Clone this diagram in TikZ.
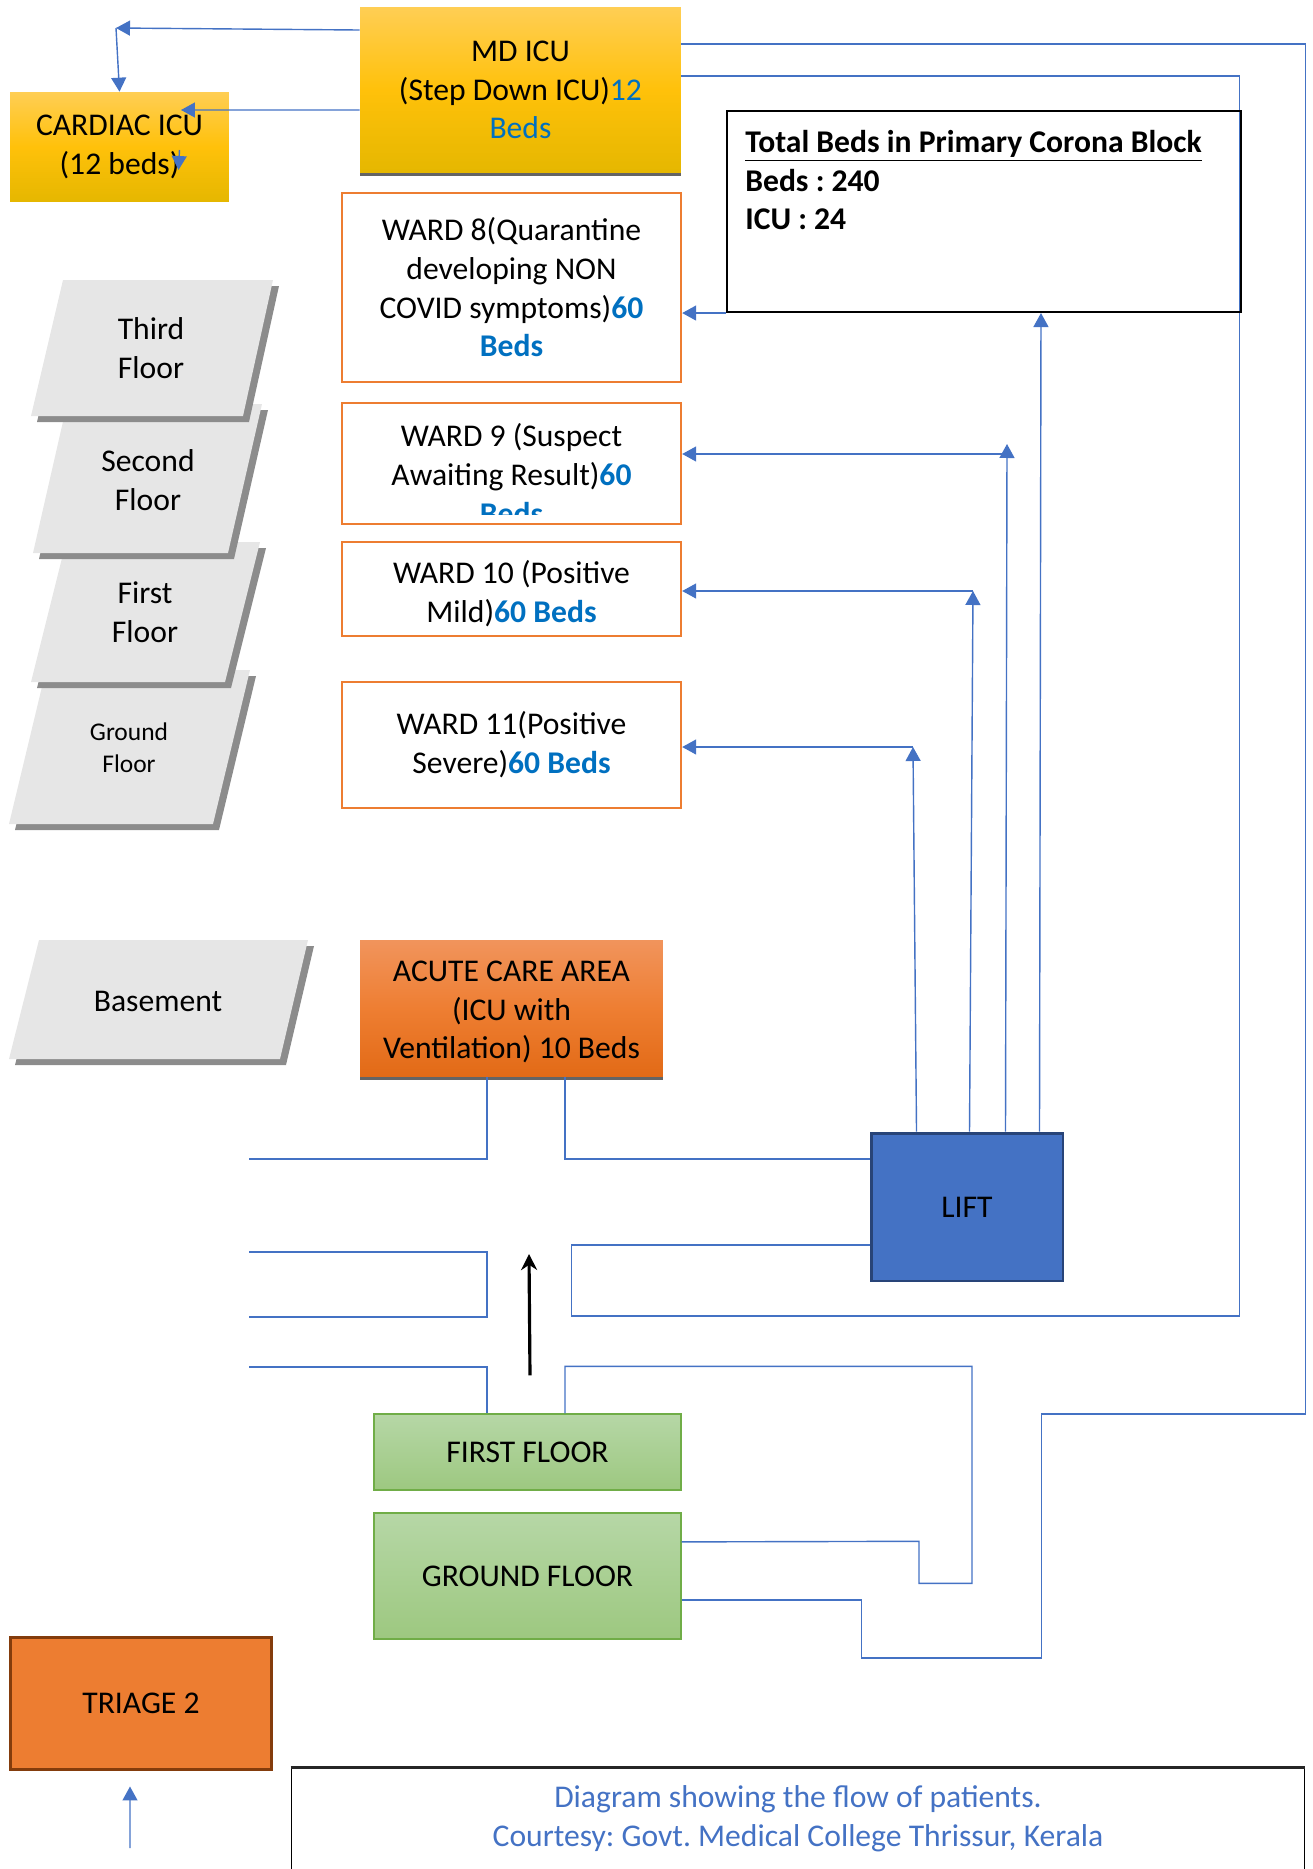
\documentclass[tikz,border=0pt]{standalone}
\usepackage{fontspec}
\setmainfont{Carlito}
\usepackage{xcolor}
\usepackage{tikz}
\usetikzlibrary{arrows.meta,positioning,shadows,backgrounds}
\frenchspacing
\definecolor{goldtop}   {RGB}{255,206,84}
\definecolor{goldmid}   {RGB}{255,193,10}
\definecolor{goldbot}   {RGB}{229,183,0}
\definecolor{acutetop}  {RGB}{241,148,92}
\definecolor{acutemid}  {RGB}{238,126,50}
\definecolor{acutebot}  {RGB}{226,106,22}
\definecolor{greentop}  {RGB}{182,215,166}
\definecolor{greenbot}  {RGB}{157,200,128}
\definecolor{greenedge} {RGB}{112,173,71}
\definecolor{wardorange}{RGB}{237,125,49}
\definecolor{triageedge}{RGB}{132,60,12}
\definecolor{liftblue}  {RGB}{68,114,196}
\definecolor{liftedge}  {RGB}{40,68,120}
\definecolor{linkblue}  {RGB}{68,114,196}
\definecolor{bedblue}   {RGB}{0,112,192}
\definecolor{floorface} {RGB}{230,230,230}
\definecolor{floorshade}{RGB}{140,140,140}
\definecolor{boxshade}  {RGB}{100,100,100}
\newcommand{\bigtxt}{\fontsize{18}{22}\selectfont}
\newcommand{\smalltxt}{\fontsize{14.5}{18}\selectfont}
\newcommand{\beds}[1]{\textcolor{bedblue}{\textbf{#1}}}
% one grey floor slab with its shadow
\newcommand{\slab}[4]{%
  \fill[floorshade, shift={(6,6)}] #1 -- #2 -- #3 -- #4 -- cycle;
  \fill[floorface] #1 -- #2 -- #3 -- #4 -- cycle;}
\tikzset{
  conn/.style     ={draw=linkblue, line width=0.8pt},
  arr/.style      ={conn, -{Triangle[length=0.28cm,width=0.3cm]}},
  flowarr/.style  ={draw=black, line width=1.8pt, -{Stealth[length=0.32cm,width=0.32cm]}},
  boxshadow/.style={drop shadow={shadow xshift=0cm, shadow yshift=-0.07cm,
                    fill=boxshade, opacity=1}},
  icubox/.style   ={align=center, font=\bigtxt, top color=goldtop,
                    bottom color=goldbot, middle color=goldmid},
  acutebox/.style ={align=center, font=\bigtxt, top color=acutetop,
                    bottom color=acutebot, middle color=acutemid, boxshadow},
  wardbox/.style  ={draw=wardorange, line width=1.4pt, fill=white, align=center,
                    font=\bigtxt, minimum width=6.78cm},
  wardtxt/.style  ={align=center, font=\bigtxt},
  floortxt/.style ={align=center, font=\bigtxt},
  floorbox/.style ={draw=greenedge, line width=0.8pt, top color=greentop,
                    bottom color=greenbot, font=\bigtxt,
                    minimum width=6.14cm, minimum height=1.52cm},
  liftbox/.style  ={draw=liftedge, line width=1.7pt, fill=liftblue, font=\bigtxt,
                    minimum width=3.84cm, minimum height=2.96cm},
  totbox/.style   ={draw=black, line width=1.2pt, minimum width=10.28cm,
                    minimum height=4.02cm},
  tottxt/.style   ={align=left, font=\bigtxt\bfseries, inner sep=0pt},
  triagebox/.style={draw=triageedge, line width=1.7pt, fill=wardorange,
                    font=\bigtxt, minimum width=5.24cm, minimum height=2.64cm},
  capbox/.style   ={draw=black, line width=0.6pt, minimum width=20.28cm,
                    minimum height=2.84cm},
  captxt/.style   ={align=center, font=\bigtxt, text=linkblue},
}
\begin{document}
\begin{tikzpicture}[x=0.02cm, y=-0.02cm]
  \useasboundingbox (0,0) rectangle (1312,1869);
  % floor slabs
  \slab{(46,670)}{(250,670)}{(213,824)}{(9,824)}
  \slab{(66,542)}{(260,542)}{(225,682)}{(31,682)}
  \slab{(67,404)}{(262,404)}{(228,553)}{(33,553)}
  \slab{(63,280)}{(273,280)}{(243,416)}{(31,416)}
  \slab{(39,940)}{(308,940)}{(280,1059)}{(9,1059)}
  \node[floortxt] (third) at (151,348) {Third\\Floor};
  \node[floortxt] (second) at (148,480) {Second\\Floor};
  \node[floortxt] (first) at (145,612) {First\\Floor};
  \node[floortxt, font=\smalltxt] (ground) at (129,748) {Ground\\Floor};
  \node[floortxt] (base) at (158,1001) {Basement};

  % units
  \node[icubox, boxshadow, minimum width=6.42cm, minimum height=3.32cm] (md) at (520.5,90)
    {MD ICU\\(Step Down ICU)\textcolor{bedblue}{12}\\\textcolor{bedblue}{Beds}};
  \node[icubox, minimum width=4.38cm, minimum height=2.2cm] (card) at (119.5,147)
    {CARDIAC ICU\\(12 beds)};
  \node[wardbox, minimum height=3.78cm] (w8) at (511.5,287.5)
    {WARD 8(Quarantine\\developing NON\\COVID symptoms)\beds{60}\\\beds{Beds}};
  \node[wardbox, minimum height=2.42cm, below=0.37cm of w8] (w9) {};
  \begin{scope}
    \clip (w9.north west) rectangle ([yshift=0.22cm]w9.south east);
    \node[wardtxt, yshift=-0.21cm] (w9txt) at (w9.center)
      {WARD 9 (Suspect\\Awaiting Result)\beds{60}\\\beds{Beds}};
  \end{scope}
  \node[wardbox, minimum height=1.88cm, below=0.31cm of w9] (w10) {};
  \node[wardtxt, yshift=-0.1cm] (w10txt) at (w10.center)
    {WARD 10 (Positive\\Mild)\beds{60 Beds}};
  \node[wardbox, minimum height=2.52cm, below=0.87cm of w10] (w11)
    {WARD 11(Positive\\Severe)\beds{60 Beds}};
  \node[acutebox, minimum width=6.06cm, minimum height=2.74cm] (acute) at (511.5,1008.5) {};
  \node[wardtxt, yshift=-0.07cm] (acutetxt) at (acute.center)
    {ACUTE CARE AREA\\(ICU with\\Ventilation) 10 Beds};
  \node[totbox] (tot) at (984,211.5) {};
  \node[tottxt, below right=0.4cm and 0.38cm of tot.north west] (totlbl)
    {\underline{Total Beds in Primary Corona Block}\\Beds : 240\\ICU : 24};
  \node[liftbox] (lift) at (967,1207) {LIFT};
  \node[floorbox] (ff) at (527.5,1452) {FIRST FLOOR};
  \node[floorbox, minimum height=2.52cm, below=0.43cm of ff] (gf) {GROUND FLOOR};
  \node[triagebox] (tri) at (141,1703) {TRIAGE 2};
  \node[capbox] (cap) at (798,1839) {};
  \draw[line width=1.2pt, black!85] (cap.north west) -- (cap.north east);
  \node[captxt] (captxt) at (798,1819)
    {Diagram showing the flow of patients.\\Courtesy: Govt. Medical College Thrissur, Kerala};

  % MD ICU to cardiac
  \coordinate (bend) at (116,28);
  \coordinate (tipB) at (181,110);
  \draw[arr] ([yshift=1.2cm]md.west) -- (bend);
  \draw[arr] (bend) -- (card.north);
  \draw[arr] ([yshift=-0.4cm]md.west) -- (tipB);
  \draw[arr] ([xshift=1.2cm,yshift=-0.06cm]card.center) -- ++(-1,20);

  % lift up to the wards
  \coordinate (c11) at (913,747);
  \coordinate (c10) at (973,591);
  \coordinate (c9) at (1007,444);
  \coordinate (c9h) at (1007,454);
  \draw[arr] ([xshift=0.94cm]lift.north west) -- (c11);
  \draw[arr] (c11) -- (c11 -| w11.east);
  \draw[arr] ([xshift=2cm]lift.north west) -- (c10);
  \draw[arr] (c10) -- (c10 -| w10.east);
  \draw[arr] ([xshift=2.72cm]lift.north west) -- (c9);
  \draw[arr] (c9h) -- (c9h -| w9.east);
  \draw[arr] ([xshift=3.4cm]lift.north west) -- ([xshift=1.14cm]tot.south);
  \draw[arr] (tot.south west) -- (tot.south west -| w8.east);

  % corridors
  \draw[conn] ([yshift=-0.48cm]gf.east) -- ++(180,0) -- ++(0,58) -- ++(180,0)
    -- ++(0,-244) -- ++(264,0) |- ([yshift=0.92cm]md.east);
  \begin{scope}[on background layer]
    \draw[conn] ([yshift=-0.76cm]lift.west) -- ++(-298,0) -- ++(0,71) -- ++(668,0)
      |- ([yshift=0.28cm]md.east);
  \end{scope}
  \draw[conn] ([xshift=1.07cm]acute.south) |- ([yshift=0.96cm]lift.west);
  \coordinate (openA) at (249,1159);
  \coordinate (openB) at (249,1252);
  \coordinate (openC) at (249,1367);
  \draw[conn] ([xshift=-0.49cm]acute.south) |- (openA);
  \draw[conn] (openB) -- ++(238,0) -- ++(0,65) -- ++(-238,0);
  \draw[conn] ([xshift=-0.81cm]ff.north) |- (openC);
  \draw[conn] ([xshift=0.75cm]ff.north) |- ++(407,-47) -- ++(0,217) -- ++(-53,0)
    -- ++(0,-42) -- ([yshift=0.68cm]gf.east);

  % way up and triage
  \coordinate (upend) at (529,1254);
  \draw[flowarr] ([xshift=0.05cm,yshift=0.76cm]ff.north) -- (upend);
  \coordinate (tail) at (130,1848);
  \draw[arr] (tail) -- ([xshift=-0.22cm,yshift=-0.32cm]tri.south);
\end{tikzpicture}
\end{document}
